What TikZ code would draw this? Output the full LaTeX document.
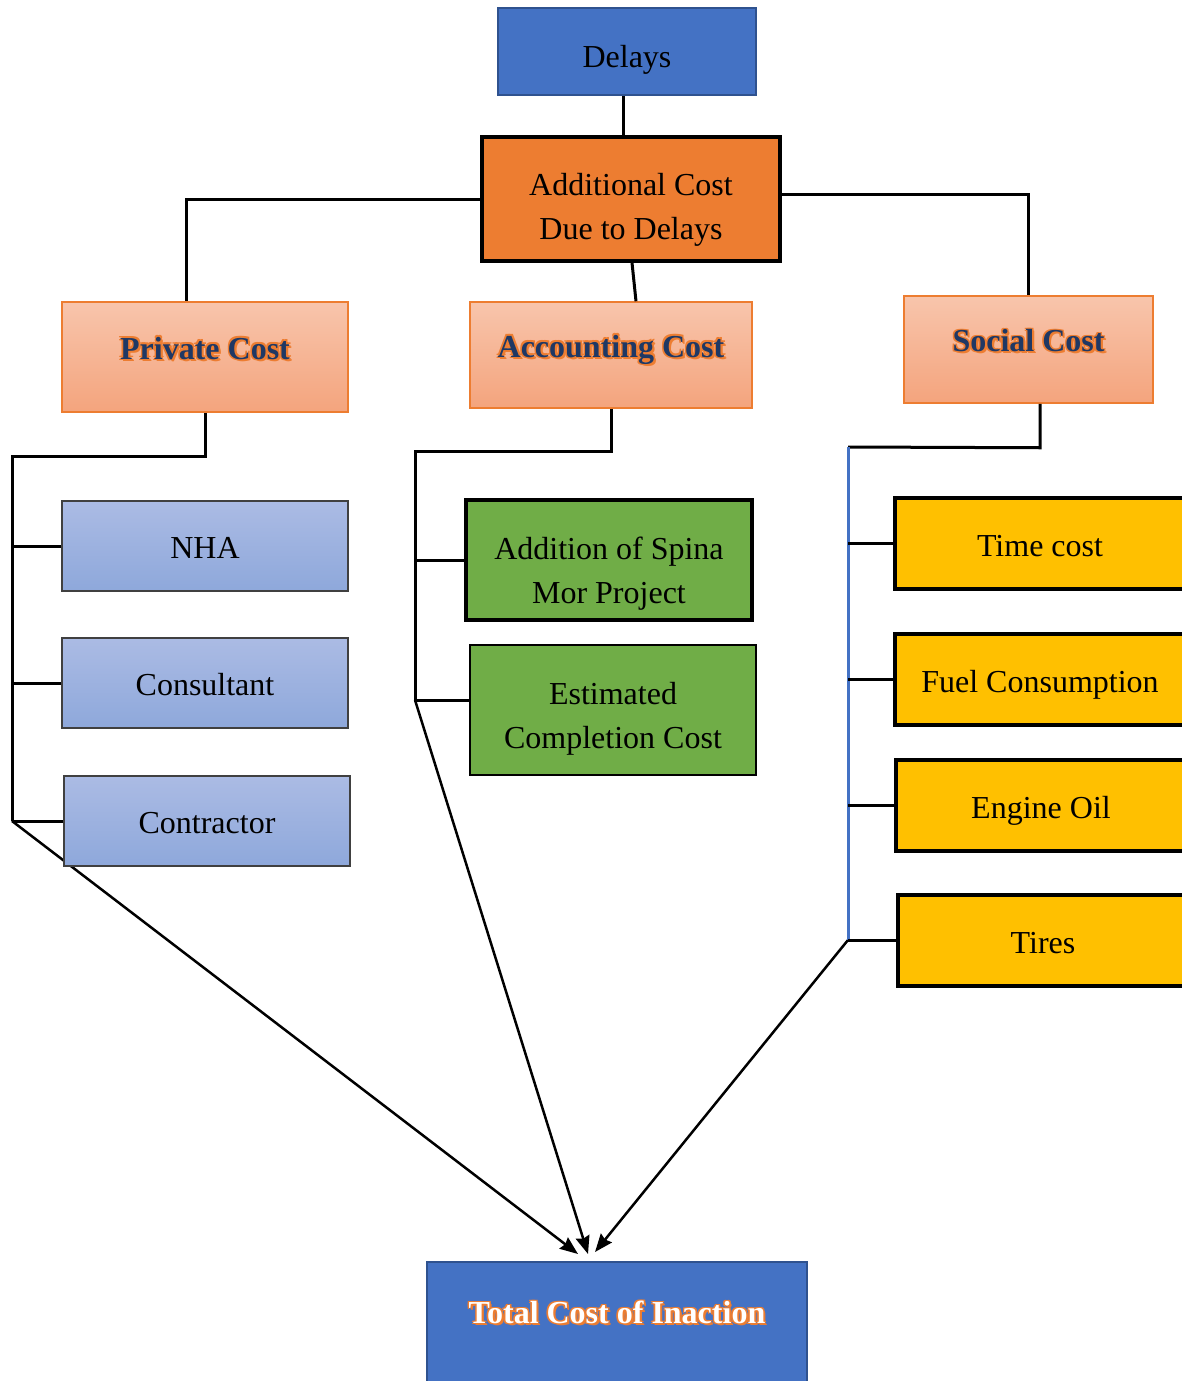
\documentclass[tikz,border=0pt]{standalone}
\usepackage{fontspec}
\setmainfont{Liberation Serif}
\usepackage{color}
\usepackage{tikz}
\usetikzlibrary{positioning,arrows,arrows.meta,shadings,backgrounds}
\definecolor{myblue}{RGB}{68,114,196}
\definecolor{mydarkblue}{RGB}{47,82,143}
\definecolor{myorange}{RGB}{237,125,49}
\definecolor{mypeachtop}{RGB}{248,197,172}
\definecolor{mypeachbot}{RGB}{244,164,125}
\definecolor{mylilactop}{RGB}{171,187,228}
\definecolor{mylilacbot}{RGB}{142,168,219}
\definecolor{mygreen}{RGB}{112,173,71}
\definecolor{myyellow}{RGB}{255,192,0}
\definecolor{mynavy}{RGB}{31,56,100}

% text with a coloured rim round it
\newcommand{\glow}[3]{{\setbox0\hbox{#3}%
	\rlap{\color{#1}\kern-1.4pt\raise1.4pt\copy0}%
	\rlap{\color{#1}\kern1.4pt\raise1.4pt\copy0}%
	\rlap{\color{#1}\kern-1.4pt\lower1.4pt\copy0}%
	\rlap{\color{#1}\kern1.4pt\lower1.4pt\copy0}%
	\rlap{\color{#1}\kern2.2pt\lower2.2pt\copy0}%
	\color{#2}\box0}}

\begin{document}
\begin{tikzpicture}[x=1pt,y=-1pt,
	every node/.style={draw,rectangle,inner sep=0pt,align=center,font=\fontsize{32}{44}\selectfont},
	topnode/.style={fill=myblue,draw=mydarkblue,line width=2pt},
	costnode/.style={fill=myorange,line width=3.5pt},
	headnode/.style={top color=mypeachtop,bottom color=mypeachbot,draw=myorange,line width=1.5pt,
		text height=22pt,text depth=18pt,font=\fontsize{32}{44}\selectfont\bfseries},
	pnode/.style={top color=mylilactop,bottom color=mylilacbot,draw=black!75,line width=1.5pt,
		minimum width=286,minimum height=90,text height=25pt,text depth=0pt},
	anode/.style={fill=mygreen,minimum width=286},
	snode/.style={fill=myyellow,line width=3.5pt,minimum width=290,minimum height=91,
		text height=26pt,text depth=0pt},
	link/.style={line width=3pt},
	sumlink/.style={line width=2.5pt,-{Stealth[length=18pt,width=14pt,inset=2pt]}},
	]
	\useasboundingbox (0,0) rectangle (1182,1381);
	
	% the top of the tree
	\node[topnode,minimum width=258,minimum height=87,text height=31.5pt,text depth=0pt] (delays) at (627,51.5) {Delays};
	\node[costnode,minimum width=298,minimum height=124,text height=80.5pt,text depth=0pt] (addcost) at (631,199) {Additional Cost\\Due to Delays};
	
	% the three kinds of cost
	\node[headnode,minimum width=286,minimum height=110] (pc) at (205,357) {\glow{myorange}{mynavy}{Private Cost}};
	\node[headnode,minimum width=282,minimum height=106] (ac) at (611,355) {\glow{myorange}{mynavy}{Accounting Cost}};
	\node[headnode,minimum width=249,minimum height=107] (sc) at (1028.5,349.5) {\glow{myorange}{mynavy}{Social Cost}};
	
	% the private costs
	\foreach \i/\x/\y/\t in {1/205/546/NHA, 2/205/683/Consultant, 3/207/821/Contractor}
	\node[pnode] (p\i) at (\x,\y) {\t};
	
	% the accounting costs
	\node[anode,line width=3.5pt,minimum height=120,text height=86.5pt,text depth=0pt] (a1) at (609,560) {Addition of Spina\\Mor Project};
	\node[anode,line width=2.5pt,minimum height=130,text height=76.5pt,text depth=0pt] (a2) at (613,710) {Estimated\\Completion Cost};
	
	% the social costs
	\foreach \i/\x/\y/\t in {1/1040/543.5/Time cost, 2/1040/679.5/Fuel Consumption, 3/1041/805.5/Engine Oil, 4/1043/940.5/Tires}
	\node[snode] (s\i) at (\x,\y) {\t};
	
	% the sum
	\node[topnode,minimum width=380,minimum height=140,text height=22pt,text depth=39pt,
		font=\fontsize{32}{44}\selectfont\bfseries] (total) at (617,1332) {\glow{myorange}{white}{Total Cost of Inaction}};
	
	% the bus ends
	\coordinate (pj) at (12,821);
	\coordinate (aj) at (415,700);
	\coordinate (sj0) at (848,447);
	\coordinate (sj) at (848,940);
	
	% the edges at the top
	\draw[link] ([xshift=-4pt]delays.south) -- ([xshift=-4pt]delays.south |- addcost.north);
	\draw[link] (addcost.west) -| ([xshift=-19pt]pc.north);
	\draw[link] ([xshift=1pt]addcost.south) -- ([xshift=25pt]ac.north);
	\draw[link] ([yshift=5pt]addcost.east) -| (sc.north);
	
	% the buses
	\draw[link] (pc.south) -- ++(0,44) -| (pj);
	\foreach \i in {1,2,3}
	\draw[link] (p\i.west) -- (p\i.west -| pj);
	\draw[link] (ac.south) -- ++(0,43) -| (aj);
	\draw[link] (a1.west) -- (a1.west -| aj);
	\draw[link] ([yshift=10pt]a2.west) -- (aj);
	\draw[link] ([xshift=11.5pt]sc.south) -- ++(0,44) -- (sj0);
	\draw[link,myblue] (sj0) -- (sj);
	\foreach \i in {1,...,4}
	\draw[link] (s\i.west) -- (s\i.west -| sj);
	
	% the edges into the sum, behind the boxes
	\begin{pgfonlayer}{background}
	\draw[sumlink] (pj) -- ([xshift=-39pt,yshift=7pt]total.north);
	\draw[sumlink] (aj) -- ([xshift=-29pt,yshift=7pt]total.north);
	\draw[sumlink] (sj) -- ([xshift=-22pt,yshift=9pt]total.north);
	\end{pgfonlayer}
\end{tikzpicture}
\end{document}
